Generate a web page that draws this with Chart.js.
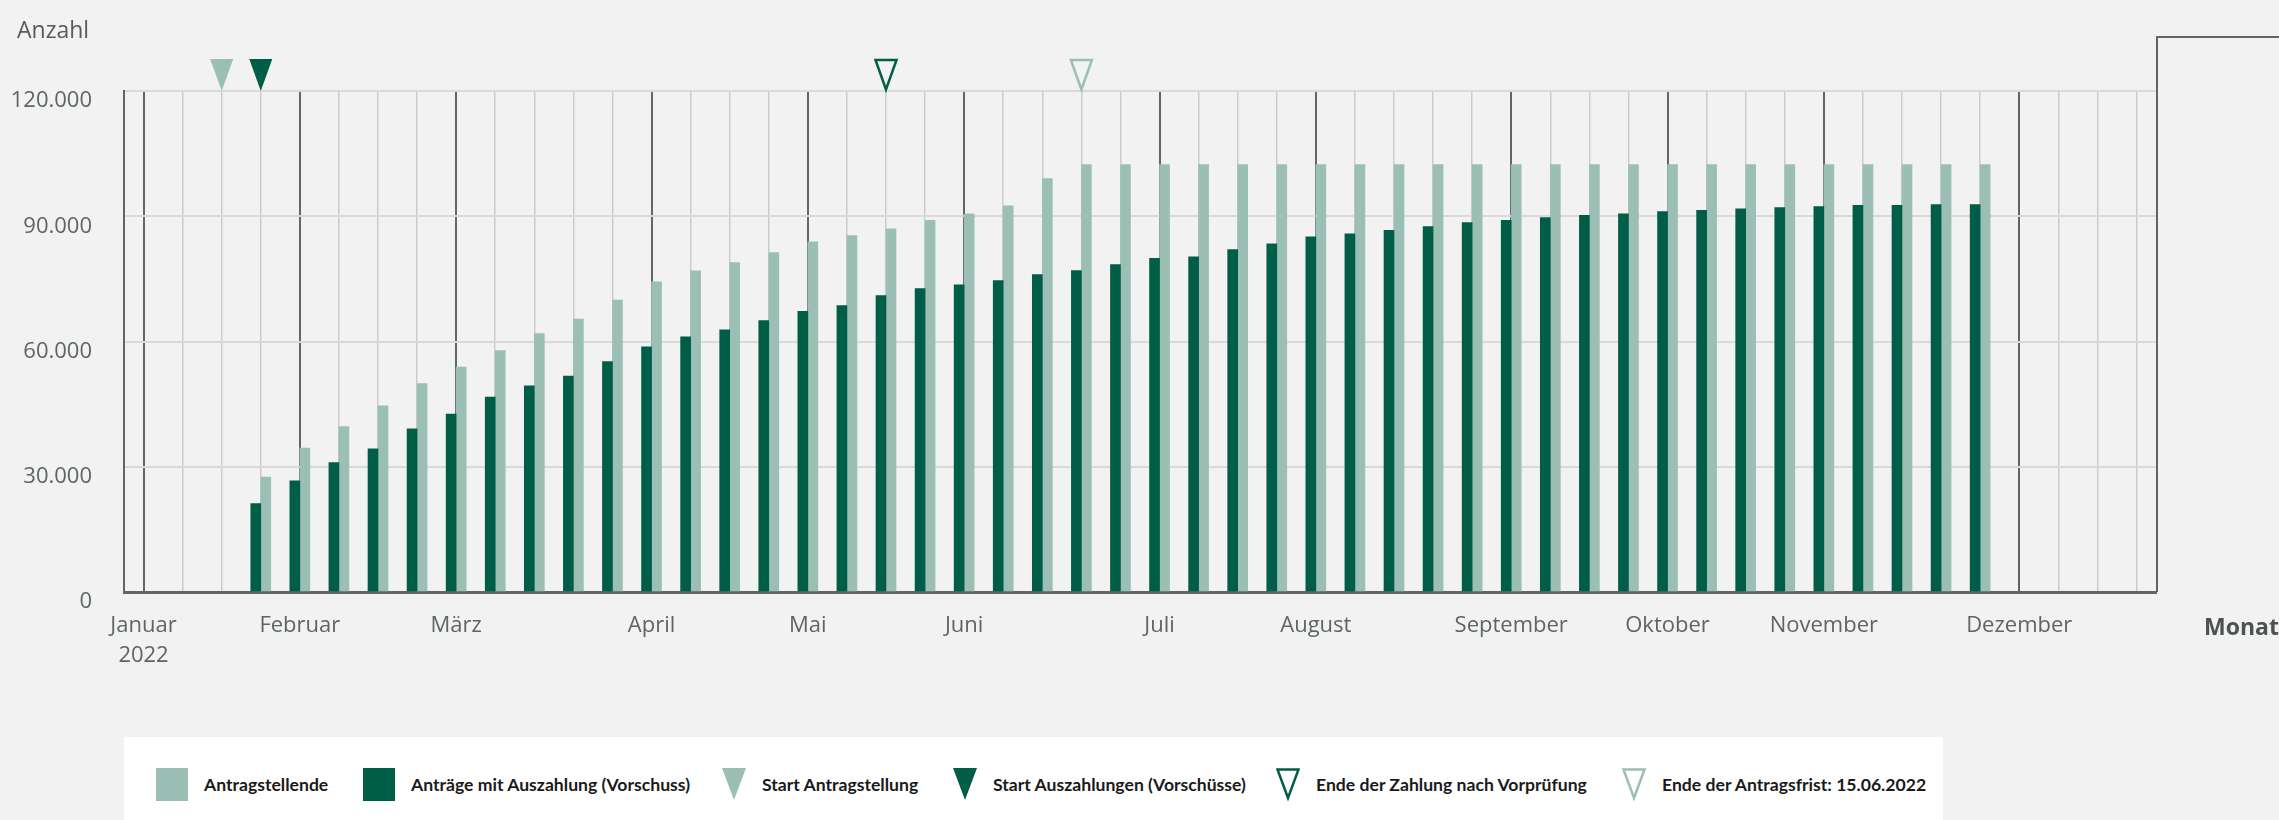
<!DOCTYPE html>
<html lang="de">
<head>
<meta charset="utf-8">
<title>Antragstellende und Auszahlungen 2022</title>
<script src="https://cdn.jsdelivr.net/npm/chart.js@4.4.1/dist/chart.umd.min.js"></script>
<style>
  html, body { margin: 0; padding: 0; background: #f2f2f2; }
  #wrap { position: relative; width: 2279px; height: 820px; overflow: hidden; }
  .axis-title { position: absolute; font-family: "Open Sans", sans-serif; font-size: 23px; line-height: 1; color: #555b5e; white-space: nowrap; }
  #legend { position: absolute; left: 124px; top: 737px; width: 1819px; height: 100px; background: #ffffff; }
  .item { position: absolute; top: 31px; height: 33px; display: flex; align-items: center; gap: 16px;
          font-family: Lato, "Open Sans", sans-serif; font-weight: bold; font-size: 17.6px; color: #1a1a1a; white-space: nowrap; }
  .swatch { width: 32px; height: 33px; }
</style>
</head>
<body>
<div id="wrap">
  <canvas id="chart"></canvas>
  <div class="axis-title" style="left:17px; top:18px;">Anzahl</div>
  <div class="axis-title" style="left:2204px; top:615px; font-weight:bold; color:#4d5254;">Monat</div>
  <div id="legend"></div>
</div>
<script>
// weeks of 2022, one slot per week
const weekCount = 52;
const monthNames = ['Januar', 'Februar', 'März', 'April', 'Mai', 'Juni', 'Juli', 'August', 'September', 'Oktober', 'November', 'Dezember'];
const monthWeeks = [0, 4, 8, 13, 17, 21, 26, 30, 35, 39, 43, 48];
const yearLabel = '2022';

// Antragstellende (cumulative), weeks 0..51
const antragstellende = [
  null, null, null, 27550, 34500, 39600, 44600, 49900, 53900, 57800,
  61900, 65400, 69900, 74300, 76900, 78900, 81300, 83900, 85400, 87000,
  89000, 90600, 92500, 99000, 102400, 102400, 102400, 102400, 102400, 102400,
  102400, 102400, 102400, 102400, 102400, 102400, 102400, 102400, 102400, 102400,
  102400, 102400, 102400, 102400, 102400, 102400, 102400, 102400, null, null,
  null, null
];

// Anträge mit Auszahlung (Vorschuss), weeks 0..51
const auszahlungen = [
  null, null, null, 21200, 26600, 31000, 34300, 39100, 42600, 46700,
  49400, 51700, 55200, 58700, 61100, 62800, 65000, 67200, 68600, 71000,
  72700, 73600, 74600, 76000, 77000, 78400, 79900, 80300, 82000, 83400,
  85100, 85800, 86600, 87500, 88500, 89000, 89700, 90200, 90600, 91100,
  91400, 91800, 92100, 92300, 92600, 92600, 92800, 92800, null, null,
  null, null
];

const yTicks = [0, 30000, 60000, 90000, 120000];

// event markers (week index) shown as triangles above the plot
const markerWeeks = [2, 3, 19, 24];
const markerNames = ['Start Antragstellung', 'Start Auszahlungen (Vorschüsse)', 'Ende der Zahlung nach Vorprüfung', 'Ende der Antragsfrist: 15.06.2022'];

const LIGHT = '#9bbfb5';
const DARK = '#005e46';
const BG = '#f2f2f2';
const AXIS = '#5f6769';
const markerLook = [
  { color: LIGHT, filled: true },
  { color: DARK, filled: true },
  { color: DARK, filled: false },
  { color: LIGHT, filled: false }
];

const weekLabels = Array.from({ length: weekCount }, (_, i) => {
  const m = monthWeeks.indexOf(i);
  if (m < 0) return '';
  return m === 0 ? [monthNames[0], yearLabel] : monthNames[m];
});

function formatNumber(v) {
  return String(v).replace(/\B(?=(\d{3})+(?!\d))/g, '.');
}

// triangles above the plot area
const markerPlugin = {
  id: 'markers',
  afterDraw(chart) {
    const ctx = chart.ctx;
    const x = chart.scales.x;
    const tip = chart.chartArea.top;
    markerWeeks.forEach((w, i) => {
      const cx = x.getPixelForValue(w);
      const look = markerLook[i];
      ctx.save();
      ctx.beginPath();
      if (look.filled) {
        ctx.moveTo(cx - 11.5, tip - 32);
        ctx.lineTo(cx + 11.5, tip - 32);
        ctx.lineTo(cx, tip);
        ctx.closePath();
        ctx.fillStyle = look.color;
        ctx.fill();
      } else {
        ctx.moveTo(cx - 10.5, tip - 31);
        ctx.lineTo(cx + 10.5, tip - 31);
        ctx.lineTo(cx, tip - 1.5);
        ctx.closePath();
        ctx.fillStyle = BG;
        ctx.fill();
        ctx.lineWidth = 2.5;
        ctx.lineJoin = 'miter';
        ctx.strokeStyle = look.color;
        ctx.stroke();
      }
      ctx.restore();
    });
  }
};

// right frame line of the plot, continuing up and to the right edge
const framePlugin = {
  id: 'frame',
  afterDraw(chart) {
    const ctx = chart.ctx;
    const a = chart.chartArea;
    ctx.save();
    ctx.strokeStyle = AXIS;
    ctx.lineWidth = 2;
    ctx.beginPath();
    ctx.moveTo(a.right + 1, a.bottom);
    ctx.lineTo(a.right + 1, 37);
    ctx.lineTo(chart.width, 37);
    ctx.stroke();
    ctx.restore();
  }
};

const canvas = document.getElementById('chart');
canvas.width = 2279;
canvas.height = 820;

new Chart(canvas.getContext('2d'), {
  type: 'bar',
  data: {
    labels: weekLabels,
    datasets: [
      {
        label: 'Anträge mit Auszahlung (Vorschuss)',
        data: auszahlungen,
        backgroundColor: DARK,
        barThickness: 10
      },
      {
        label: 'Antragstellende',
        data: antragstellende,
        backgroundColor: LIGHT,
        barThickness: 10
      }
    ]
  },
  options: {
    responsive: false,
    animation: false,
    layout: { padding: { top: 91, right: 123, bottom: 0, left: 0 } },
    plugins: {
      legend: { display: false },
      tooltip: { enabled: false }
    },
    scales: {
      x: {
        grid: {
          offset: false,
          drawTicks: false,
          color: ctx => monthWeeks.includes(ctx.index) ? AXIS : '#cccccc',
          lineWidth: ctx => monthWeeks.includes(ctx.index) ? 2 : 1.5
        },
        border: { display: true, color: AXIS, width: 3 },
        ticks: {
          autoSkip: false,
          maxRotation: 0,
          padding: 18,
          color: '#5d6568',
          font: { family: '"Open Sans", sans-serif', size: 22, lineHeight: 1.4 }
        },
        afterFit(scale) { scale.height = 228; }
      },
      y: {
        min: 0,
        max: 120000,
        afterBuildTicks(scale) { scale.ticks = yTicks.map(v => ({ value: v })); },
        grid: { drawTicks: false, color: '#d9d9d9', lineWidth: 2 },
        border: { display: true, color: AXIS, width: 2 },
        ticks: {
          padding: 32,
          labelOffset: 10,
          color: '#5d6568',
          font: { family: '"Open Sans", sans-serif', size: 22 },
          callback: v => formatNumber(v)
        },
        afterFit(scale) { scale.width = 124; }
      }
    }
  },
  plugins: [markerPlugin, framePlugin]
});

// legend (HTML)
const legend = document.getElementById('legend');
const legendLefts = [32, 239, 598, 829, 1152, 1498];
const seriesNames = ['Antragstellende', 'Anträge mit Auszahlung (Vorschuss)'];
const seriesColors = [LIGHT, DARK];

function triangleSvg(look) {
  const fill = look.filled ? look.color : 'none';
  const stroke = look.filled ? 'none' : look.color;
  const pts = look.filled ? '0,0 24,0 12,32' : '1.5,1.5 22.5,1.5 12,30';
  return '<svg width="24" height="33" viewBox="0 0 24 33"><polygon points="' + pts +
    '" fill="' + fill + '" stroke="' + stroke + '" stroke-width="2.5"/></svg>';
}

seriesNames.forEach((name, i) => {
  const el = document.createElement('div');
  el.className = 'item';
  el.style.left = legendLefts[i] + 'px';
  el.innerHTML = '<div class="swatch" style="background:' + seriesColors[i] + '"></div><span>' + name + '</span>';
  legend.appendChild(el);
});
markerNames.forEach((name, i) => {
  const el = document.createElement('div');
  el.className = 'item';
  el.style.left = legendLefts[i + 2] + 'px';
  el.innerHTML = triangleSvg(markerLook[i]) + '<span>' + name + '</span>';
  legend.appendChild(el);
});
</script>
</body>
</html>
